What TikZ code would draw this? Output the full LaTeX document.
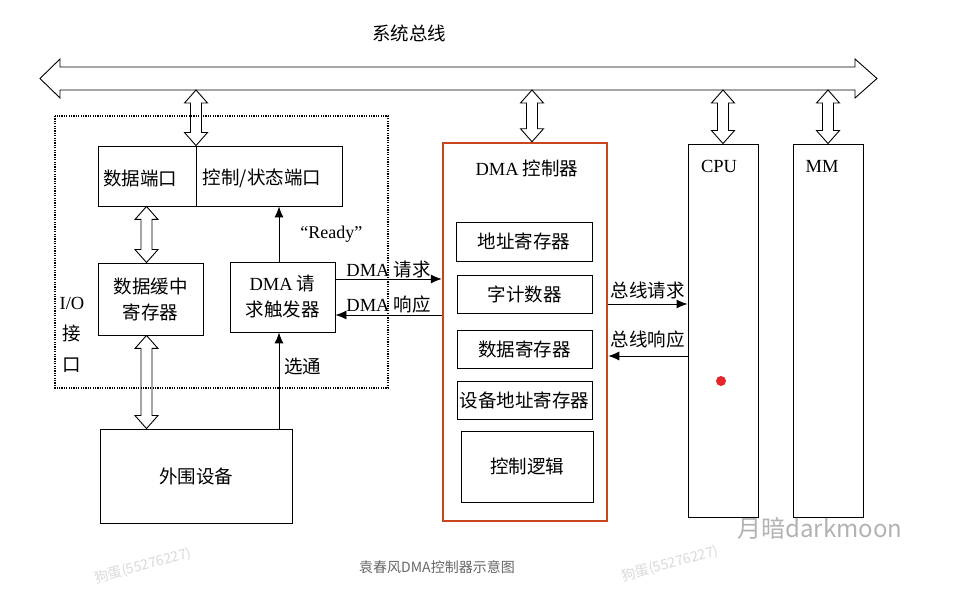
\documentclass[tikz,border=0pt]{standalone}
\usepackage{fontspec}
\setmainfont{Liberation Serif}
\newfontfamily\cjk{Noto Sans CJK SC}
\usetikzlibrary{arrows.meta,calc,positioning}

\definecolor{dmared}{RGB}{200,70,30}
\definecolor{dotred}{RGB}{232,37,43}

\tikzset{
  lbl/.style={font=\cjk\fontsize{18.5}{26}\selectfont, inner sep=1pt},
  box/.style={draw, line width=0.9pt, inner sep=0pt, lbl},
  sig/.style={line width=0.9pt, -{Latex[length=11pt,width=9pt]}},
  hollow/.style={draw, line width=0.9pt, fill=white},
  wmark/.style={font=\cjk\fontsize{14}{16}\selectfont, text=black!15, rotate=15},
}

% vertical hollow double arrow: #1 upper end, #2 lower end
\newcommand\dbl[2]{%
  \path[hollow] let \p1=#1, \p2=#2 in
    (\x1,\y1) -- (\x1+11.5pt,\y1-13pt) -- (\x1+5.5pt,\y1-13pt) -- (\x1+5.5pt,\y2+13pt)
    -- (\x1+11.5pt,\y2+13pt) -- (\x1,\y2) -- (\x1-11.5pt,\y2+13pt) -- (\x1-5.5pt,\y2+13pt)
    -- (\x1-5.5pt,\y1-13pt) -- (\x1-11.5pt,\y1-13pt) -- cycle;}

\begin{document}
\begin{tikzpicture}[x=1pt,y=-1pt]
\useasboundingbox (0,0) rectangle (954,593);

% system bus
\draw[hollow] (40,78.5) -- (60,59) -- (60,67) -- (855,67) -- (855,59) -- (877,78.5)
  -- (855,98) -- (855,90) -- (60,90) -- (60,98) -- cycle;
\coordinate (busB) at (458,90);
\node[lbl] (bustxt) at (409,33) {系统总线};

% I/O interface
\node[box, minimum width=244pt, minimum height=60pt] (port) at (220,176) {};
\coordinate (div) at (196,176);
\draw[line width=0.9pt] (div |- port.north) -- (div |- port.south);
\node[lbl] (dport) at (140,178) {数据端口};
\node[lbl] (cport) at (262,178) {控制/状态端口};
\node[box, minimum width=105pt, minimum height=72pt, align=center] (buf) at (150.5,299) {数据缓中\\寄存器};
\node[box, minimum width=105pt, minimum height=70pt, align=center] (trig) at (282.5,297) {{\rmfamily DMA} 请\\求触发器};
\node[lbl, align=center, font=\cjk\fontsize{18.5}{31}\selectfont] (io) at (72,335) {{\rmfamily I/O}\\接\\口};
\node[box, minimum width=192pt, minimum height=94pt] (dev) at (196,476) {外围设备};

% DMA controller
\node[box, draw=dmared, line width=2.5pt, minimum width=164pt, minimum height=378pt] (dma) at (525,332) {};
\node[lbl] (dmatxt) at (527,168) {{\rmfamily DMA} 控制器};
\node[box, minimum width=136pt, minimum height=39pt] (areg) at (524,241.5) {地址寄存器};
\node[box, minimum width=135pt, minimum height=38pt] (wcnt) at (524.5,294) {字计数器};
\node[box, minimum width=135pt, minimum height=38pt] (dreg) at (524.5,349) {数据寄存器};
\node[box, minimum width=135pt, minimum height=38pt] (dareg) at (524.5,400) {设备地址寄存器};
\node[box, minimum width=132pt, minimum height=71pt] (ctrl) at (527,466.5) {控制逻辑};

% CPU and memory
\node[box, minimum width=70pt, minimum height=373pt] (cpu) at (723,330.5) {};
\node[box, minimum width=70pt, minimum height=373pt] (mm) at (828,330.5) {};
\node[lbl] (cputxt) at (719,166) {\rmfamily CPU};
\node[lbl] (mmtxt) at (822,166) {\rmfamily MM};
\fill[dotred] (721,381) circle (5pt);

% hollow data paths
\dbl{(div |- busB)}{(div |- port.north)}
\coordinate (dx) at ([xshift=7pt]dma.north);
\dbl{(dx |- busB)}{(dx)}
\dbl{(cpu.north |- busB)}{(cpu.north)}
\dbl{(mm.north |- busB)}{(mm.north)}
\coordinate (bx) at ([xshift=-4pt]buf.north);
\dbl{(bx |- port.south)}{(bx)}
\dbl{(bx |- buf.south)}{(bx |- dev.north)}

% control signals
\coordinate (rdy) at ([xshift=-3.5pt]trig.north);
\draw[sig] (rdy) -- (rdy |- port.south) node[midway, right=21pt, font=\fontsize{18}{20}\selectfont, inner sep=0pt] {“Ready”};
\coordinate (stb) at ([xshift=-3.5pt]trig.south);
\draw[sig] (stb |- dev.north) -- (stb) node[pos=0.65, right=4pt, lbl] {选通};
\coordinate (rq) at ([yshift=18pt]trig.east);
\draw[sig] (rq) -- (rq -| dma.west) node[midway, above, lbl] {{\rmfamily DMA} 请求};
\coordinate (ak) at ([yshift=-18pt]trig.east);
\draw[sig] (ak -| dma.west) -- (ak) node[midway, above, lbl] {{\rmfamily DMA} 响应};
\coordinate (brq) at ([yshift=28pt]dma.east);
\draw[sig] (brq) -- (brq -| cpu.west) node[midway, above, lbl, yshift=4pt] {总线请求};
\coordinate (bak) at ([yshift=-24pt]dma.east);
\draw[sig] (bak -| cpu.west) -- (bak) node[midway, above, lbl, yshift=6pt] {总线响应};

% dotted I/O interface border
\draw[line width=1.3pt, dash pattern=on 1.2pt off 1.2pt] (55,116) rectangle (388,388);

% caption and marks
\node[font=\cjk\fontsize{14}{16}\selectfont, text=black!60] (cap) at (437,567) {袁春风DMA控制器示意图};
\node[font=\cjk\fontsize{24}{28}\selectfont, text=black!30] (dm) at (820,528) {月暗darkmoon};
\node[wmark] (wm1) at (143,566) {狗蛋(55276227)};
\node[wmark] (wm2) at (670,564) {狗蛋(55276227)};
\end{tikzpicture}
\end{document}
